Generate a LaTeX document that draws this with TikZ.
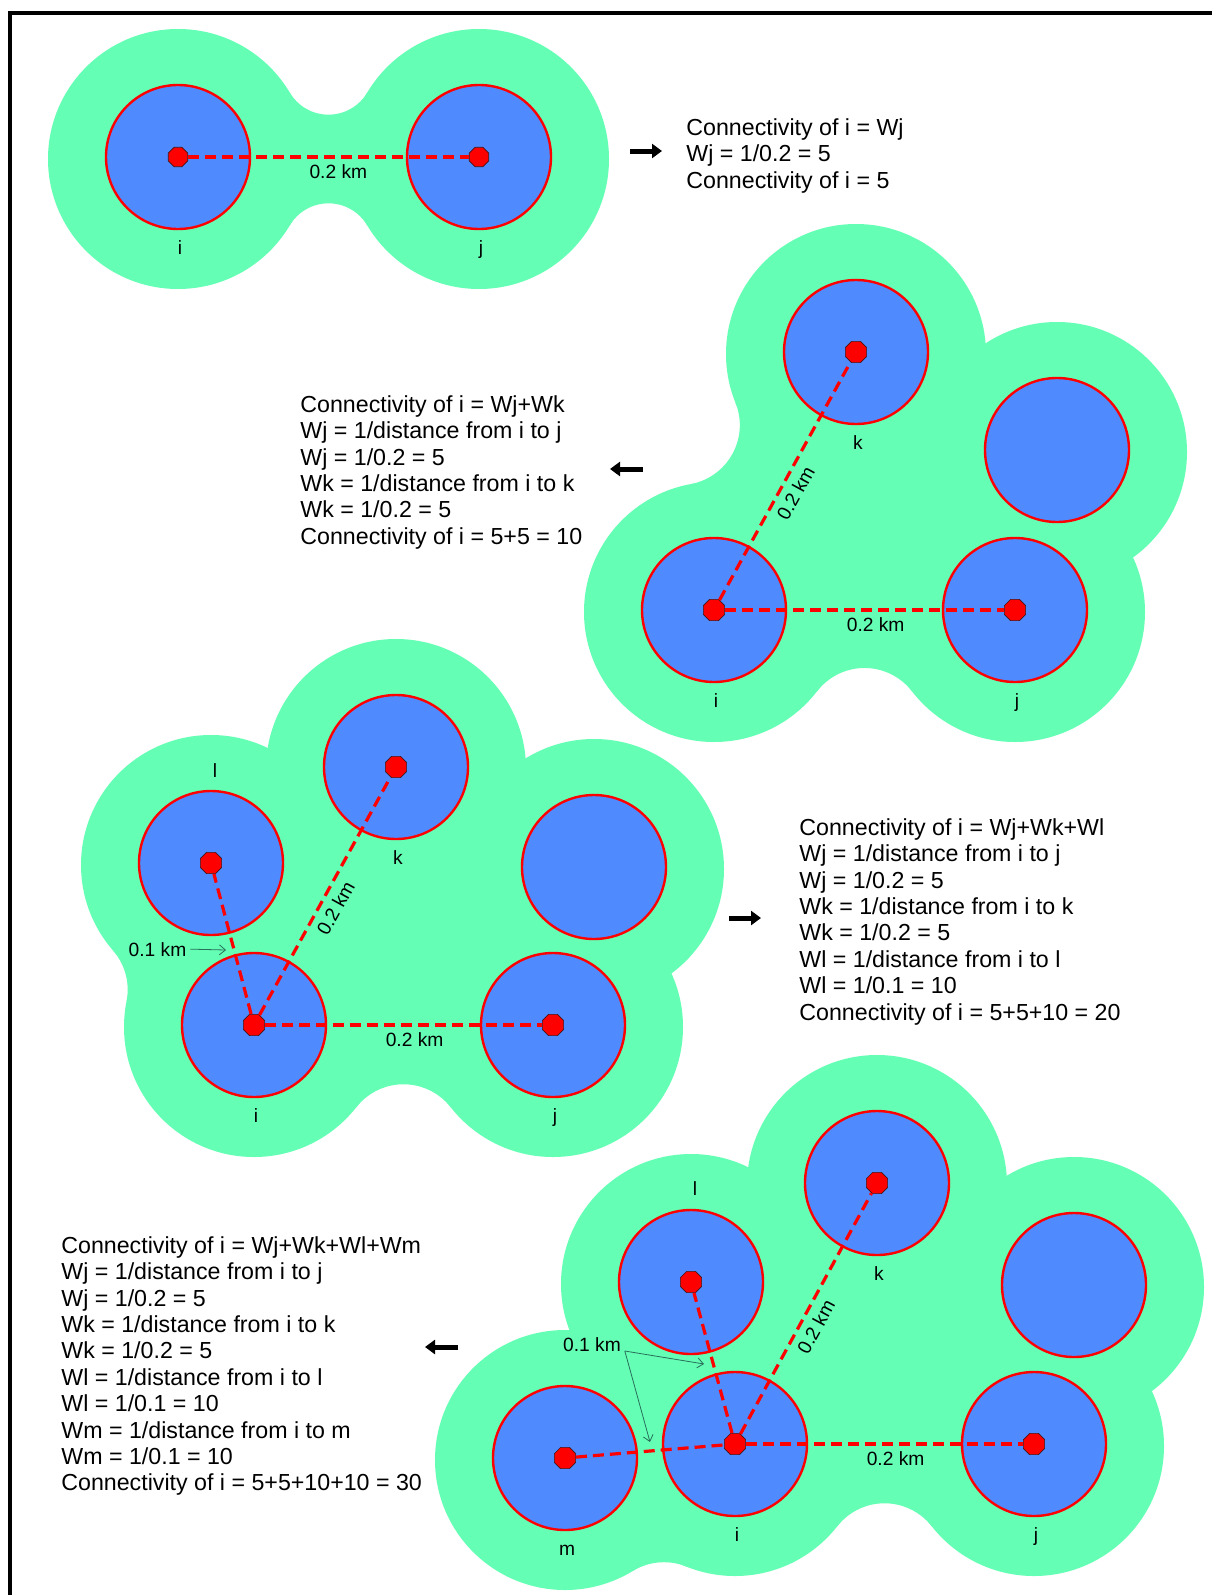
\documentclass[tikz,border=0pt]{standalone}
\usepackage{fontspec}
\setmainfont{Liberation Sans}
\usetikzlibrary{calc,shapes.geometric,arrows.meta}
\definecolor{buffgreen}{HTML}{64FFB4}
\definecolor{discblue}{HTML}{4F8BFF}
\definecolor{ptline}{RGB}{70,20,20}
\definecolor{arrgreen}{RGB}{40,110,90}
\newcommand\bufR{65}
% concave bridge between two buffer circles, on the right-hand side of #1 -> #2
\newcommand\filletbridge[3]{%
  \path let \p1=($(#2)-(#1)$),
            \n1={sqrt(max((\bufR+#3)^2-(veclen(\x1,\y1)/2)^2,1))}
        in ($(#1)!0.5!(#2)!{\n1*1pt}!-90:(#2)$) coordinate (Fo)
           ($(#1)!0.5!(#2)!15pt!90:(#2)$) coordinate (Fi);
  \begin{scope}
    \clip (#1) -- (Fo) -- (#2) -- (Fi) -- cycle;
    \fill[buffgreen, even odd rule] ($(Fo)+(-400,-400)$) rectangle ($(Fo)+(400,400)$)
         (Fo) circle[radius=#3pt];
  \end{scope}}
\begin{document}
\begin{tikzpicture}[x=0.5pt,y=-0.5pt,
  bluedisc/.style={circle, fill=discblue, draw=red, line width=1.2pt, minimum size=72pt, inner sep=0pt},
  ptdot/.style={regular polygon, regular polygon sides=8, fill=red, draw=ptline, line width=0.35pt, minimum size=11.5pt, inner sep=0pt},
  link/.style={draw=red, line width=1.6pt, dash pattern=on 5.5pt off 3pt},
  lbl/.style={font=\fontsize{9.6pt}{11pt}\selectfont, inner sep=0pt, outer sep=0pt},
  dist/.style={font=\fontsize{9.6pt}{11pt}\selectfont, inner sep=4pt, outer sep=0pt},
  txt/.style={font=\fontsize{11.6pt}{13.2pt}\selectfont, align=left, inner sep=0pt, anchor=north west},
  bigarrow/.style={line width=2.5pt, -{Triangle[length=5pt,width=7pt]}},
  thinarrow/.style={draw=arrgreen, line width=0.4pt, -{Straight Barb[length=3pt,width=5pt]}}
]
\useasboundingbox (0,0) rectangle (1212,1595);
\fill[white] (0,0) rectangle (1212,1595);
\draw[line width=2pt] (1212,13) -- (10,13) -- (10,1595);

% centres
\coordinate (c1i) at (178,157);
\coordinate (c1j) at (479,157);
\coordinate (c2i) at (714,610);
\coordinate (c2j) at (1015,610);
\coordinate (c2k) at (856,352);
\coordinate (c2n) at (1057,450);
\coordinate (c3i) at (254,1025);
\coordinate (c3j) at (553,1025);
\coordinate (c3k) at (396,767);
\coordinate (c3l) at (211,863);
\coordinate (c3n) at (594,867);
\coordinate (c4i) at (735,1444);
\coordinate (c4j) at (1034,1444);
\coordinate (c4k) at (877,1183);
\coordinate (c4l) at (691,1282);
\coordinate (c4n) at (1074,1285);
\coordinate (c4m) at (565,1458);

% green buffers
\foreach \c in {1i,1j,2i,2j,2k,2n,3i,3j,3k,3l,3n,4i,4j,4k,4l,4n,4m}{
  \coordinate (g\c) at ($(c\c)+(0,2)$);
  \fill[buffgreen] (g\c) circle[radius=65pt];
}
\fill[buffgreen] (g2i) -- (g2j) -- (g2n) -- (g2k) -- cycle;
\fill[buffgreen] (g3i) -- (g3j) -- (g3n) -- (g3k) -- (g3l) -- cycle;
\fill[buffgreen] (g4m) -- (g4i) -- (g4j) -- (g4n) -- (g4k) -- (g4l) -- cycle;
\filletbridge{g1i}{g1j}{22.5}
\filletbridge{g1j}{g1i}{22.5}
\filletbridge{g2i}{g2j}{30}
\filletbridge{g2k}{g2i}{30}
\filletbridge{g3i}{g3j}{30}
\filletbridge{g3l}{g3i}{30}
\filletbridge{g4m}{g4i}{30}
\filletbridge{g4i}{g4j}{30}

% blue discs
\foreach \c in {1i,1j,2i,2j,2k,2n,3i,3j,3k,3l,3n,4i,4j,4k,4l,4n,4m}
  \node[bluedisc] (b\c) at (c\c) {};

% points
\foreach \c in {1i,1j}
  \node[ptdot, minimum size=10.5pt] (d\c) at (c\c) {};
\foreach \c in {2i,2j,2k,3i,3j,3k,3l,4i,4j,4k,4l,4m}
  \node[ptdot] (d\c) at (c\c) {};

% links
\draw[link] (d1i) -- node[dist, pos=.535, below]{0.2 km} (d1j);
\draw[link] (d2i) -- node[dist, pos=.54, below]{0.2 km} (d2j);
\draw[link] (d2i) -- node[dist, pos=.48, sloped, below]{0.2 km} (d2k);
\draw[link] (d3i) -- node[dist, pos=.54, below]{0.2 km} (d3j);
\draw[link] (d3i) -- node[dist, pos=.48, sloped, below]{0.2 km} (d3k);
\draw[link] (d3i) -- (d3l);
\draw[link] (d4i) -- node[dist, pos=.54, below]{0.2 km} (d4j);
\draw[link] (d4i) -- node[dist, pos=.475, sloped, below]{0.2 km} (d4k);
\draw[link] (d4i) -- (d4l);
\draw[link] (d4m) -- (d4i);

% point labels
\foreach \c/\t in {1i/i,1j/j,2i/i,2j/j,2k/k,3i/i,3j/j,3k/k,4i/i,4j/j,4k/k,4m/m}
  \node[lbl, anchor=base] (L\c) at ($(c\c)+(2,97)$) {\t};
\node[lbl, anchor=base] (L3l) at ($(c3l)+(4,-86)$) {l};
\node[lbl, anchor=base] (L4l) at ($(c4l)+(4,-87)$) {l};

% 0.1 km callouts
\node[dist, anchor=base, inner sep=2pt] (K3) at (157.5,956) {0.1 km};
\coordinate (K3e) at (226,950);
\draw[thinarrow] (K3.east) -- (K3e);
\node[dist, anchor=base, inner sep=2pt] (K4) at (592,1351) {0.1 km};
\coordinate (K4a) at (704,1364);
\coordinate (K4b) at (650,1442);
\draw[thinarrow] (K4.base east) -- (K4a);
\draw[thinarrow] (K4.base east) -- (K4b);

% arrows
\coordinate (A1s) at (630,151); \coordinate (A1e) at (662,151);
\draw[bigarrow] (A1s) -- (A1e);
\coordinate (A2s) at (643,469); \coordinate (A2e) at (610,469);
\draw[bigarrow] (A2s) -- (A2e);
\coordinate (A3s) at (729,918); \coordinate (A3e) at (761,918);
\draw[bigarrow] (A3s) -- (A3e);
\coordinate (A4s) at (458,1347); \coordinate (A4e) at (425,1347);
\draw[bigarrow] (A4s) -- (A4e);

% text blocks
\node[txt] (T1) at (686,118) {Connectivity of i = Wj\\Wj = 1/0.2 = 5\\Connectivity of i = 5};
\node[txt] (T2) at (300,395) {Connectivity of i = Wj+Wk\\Wj = 1/distance from i to j\\Wj = 1/0.2 = 5\\Wk = 1/distance from i to k\\Wk = 1/0.2 = 5\\Connectivity of i = 5+5 = 10};
\node[txt] (T3) at (799,818) {Connectivity of i = Wj+Wk+Wl\\Wj = 1/distance from i to j\\Wj = 1/0.2 = 5\\Wk = 1/distance from i to k\\Wk = 1/0.2 = 5\\Wl = 1/distance from i to l\\Wl = 1/0.1 = 10\\Connectivity of i = 5+5+10 = 20};
\node[txt] (T4) at (61,1236) {Connectivity of i = Wj+Wk+Wl+Wm\\Wj = 1/distance from i to j\\Wj = 1/0.2 = 5\\Wk = 1/distance from i to k\\Wk = 1/0.2 = 5\\Wl = 1/distance from i to l\\Wl = 1/0.1 = 10\\Wm = 1/distance from i to m\\Wm = 1/0.1 = 10\\Connectivity of i = 5+5+10+10 = 30};
\end{tikzpicture}
\end{document}
